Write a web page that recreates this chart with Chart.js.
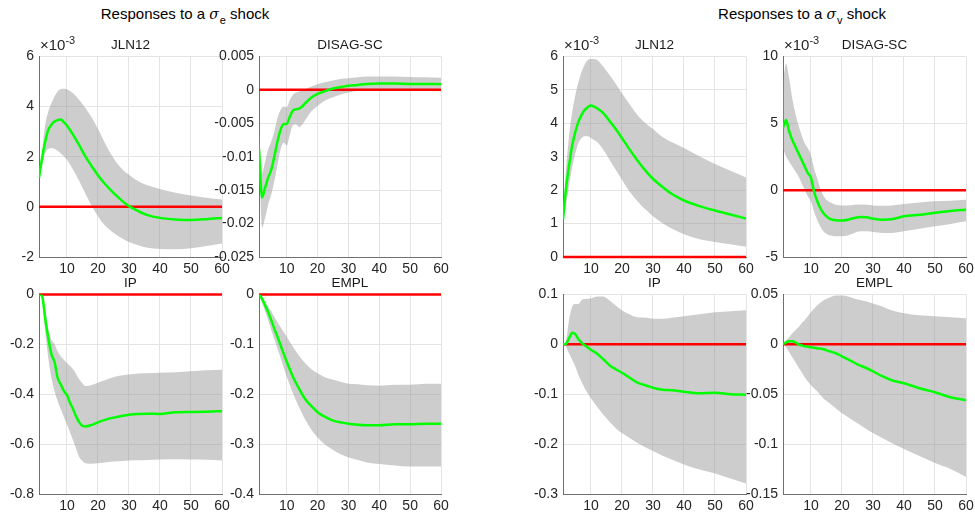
<!DOCTYPE html>
<html><head><meta charset="utf-8">
<script src="https://cdn.jsdelivr.net/npm/chart.js@4/dist/chart.umd.min.js"></script>
<style>
html,body{margin:0;padding:0;background:#fff;}
body{width:975px;height:518px;position:relative;overflow:hidden;font-family:"Liberation Sans",Arial,Helvetica,sans-serif;}
canvas{position:absolute;}
.mt{position:absolute;top:6px;font-size:15px;line-height:15px;color:#000;white-space:nowrap;transform:translateX(-50%);}
.mt sub{font-size:11px;position:relative;top:5px;vertical-align:baseline;line-height:0;margin-left:1px;}
.mt i{font-family:"DejaVu Serif","Liberation Serif",serif;font-size:14px;}
.st{position:absolute;font-size:13.5px;line-height:14px;color:#1a1a1a;white-space:nowrap;transform:translateX(-50%);}
.ex{position:absolute;font-size:15px;line-height:15px;color:#262626;white-space:nowrap;}
.ex sup{font-size:11px;position:relative;top:-6px;vertical-align:baseline;line-height:0;}
</style></head><body>
<div class="mt" style="left:185px">Responses to a <i>σ</i><sub>e</sub> shock</div>
<div class="mt" style="left:802px">Responses to a <i>σ</i><sub>v</sub> shock</div>
<script>
// ---------- DATA ----------
const X_TICKS = [10, 20, 30, 40, 50, 60];

// Responses to a sigma_e shock: JLN12 (x10^-3)
const seJLN_h    = [1,2,3,4,5,6,7,8,9,10,12,14,16,18,20,22,25,28,30,33,36,40,45,50,55,60];
const seJLN_mean = [1.15,1.95,2.6,3.07,3.27,3.4,3.46,3.48,3.38,3.24,2.87,2.45,2.0,1.62,1.26,0.95,0.56,0.22,0.03,-0.17,-0.33,-0.44,-0.5,-0.52,-0.49,-0.44];
const seJLN_hi   = [1.15,2.2,3.27,3.8,4.13,4.4,4.6,4.7,4.71,4.69,4.53,4.26,3.93,3.56,3.11,2.61,1.95,1.48,1.28,1.02,0.86,0.71,0.56,0.45,0.36,0.29];
const seJLN_lo   = [1.15,1.68,2.14,2.32,2.34,2.32,2.24,2.14,2.02,1.88,1.48,1.02,0.52,0.03,-0.37,-0.7,-1.03,-1.27,-1.4,-1.53,-1.63,-1.68,-1.69,-1.65,-1.56,-1.46];
const seJLN_yticks = [-2, 0, 2, 4, 6];

// sigma_e shock: DISAG-SC
const seDIS_h    = [1,2,3,4,5,6,7,8,9,10,11,12,13,14,15,16,18,20,22,25,28,30,33,36,40,45,50,55,60];
const seDIS_mean = [-0.0089,-0.0161,-0.0146,-0.0131,-0.0119,-0.0099,-0.0077,-0.00595,-0.0051,-0.0051,-0.004,-0.0031,-0.0029,-0.0028,-0.0025,-0.002,-0.00114,-0.0006,-0.00025,0.0002,0.00045,0.0006,0.00074,0.00089,0.00094,0.00094,0.00089,0.00089,0.00084];
const seDIS_hi   = [-0.0055,-0.0124,-0.0107,-0.0089,-0.0077,-0.0062,-0.0042,-0.003,-0.0025,-0.0026,-0.0015,-0.00074,-0.0004,-0.00025,-0.0001,0.0001,0.0005,0.00084,0.00109,0.00139,0.00164,0.00174,0.00188,0.00198,0.00198,0.00198,0.00193,0.00188,0.00179];
const seDIS_lo   = [-0.0094,-0.0206,-0.0191,-0.0171,-0.0156,-0.0136,-0.0112,-0.0089,-0.0079,-0.0083,-0.0067,-0.0053,-0.0052,-0.0056,-0.0052,-0.0045,-0.0032,-0.0024,-0.0017,-0.0011,-0.00064,-0.0004,-0.00015,-0.00005,0,-0.00005,-0.0001,-0.00015,-0.0002];
const seDIS_yticks = [-0.025, -0.02, -0.015, -0.01, -0.005, 0, 0.005];

// sigma_e shock: IP
const seIP_h    = [1,2,3,4,5,6,7,8,9,10,11,12,13,14,15,16,18,20,22,25,28,30,33,36,40,45,50,55,60];
const seIP_mean = [0,-0.007,-0.096,-0.175,-0.24,-0.27,-0.334,-0.36,-0.387,-0.403,-0.434,-0.46,-0.49,-0.513,-0.527,-0.529,-0.523,-0.513,-0.504,-0.494,-0.486,-0.482,-0.479,-0.478,-0.479,-0.472,-0.471,-0.47,-0.468];
const seIP_hi   = [0,0,-0.056,-0.135,-0.182,-0.2,-0.228,-0.248,-0.262,-0.275,-0.287,-0.3,-0.32,-0.341,-0.356,-0.367,-0.363,-0.354,-0.345,-0.332,-0.324,-0.321,-0.317,-0.316,-0.314,-0.312,-0.308,-0.304,-0.302];
const seIP_lo   = [0,-0.016,-0.149,-0.255,-0.334,-0.387,-0.427,-0.46,-0.49,-0.52,-0.553,-0.586,-0.62,-0.653,-0.668,-0.677,-0.679,-0.677,-0.674,-0.67,-0.668,-0.666,-0.665,-0.664,-0.662,-0.661,-0.662,-0.663,-0.666];
const seIP_yticks = [-0.8, -0.6, -0.4, -0.2, 0];

// sigma_e shock: EMPL
const seEMP_h    = [1,2,3,4,5,6,7,8,10,12,14,16,18,20,22,25,28,30,33,36,40,45,50,55,60];
const seEMP_mean = [0,-0.009,-0.022,-0.036,-0.052,-0.069,-0.085,-0.102,-0.135,-0.165,-0.189,-0.21,-0.224,-0.236,-0.244,-0.253,-0.257,-0.259,-0.261,-0.262,-0.262,-0.26,-0.26,-0.259,-0.259];
const seEMP_hi   = [0,-0.004,-0.015,-0.024,-0.034,-0.046,-0.056,-0.066,-0.085,-0.105,-0.123,-0.138,-0.15,-0.158,-0.165,-0.171,-0.176,-0.179,-0.18,-0.182,-0.183,-0.181,-0.181,-0.179,-0.179];
const seEMP_lo   = [0,-0.016,-0.034,-0.052,-0.072,-0.09,-0.109,-0.127,-0.165,-0.198,-0.226,-0.251,-0.271,-0.287,-0.299,-0.312,-0.322,-0.327,-0.332,-0.337,-0.34,-0.343,-0.345,-0.345,-0.345];
const seEMP_yticks = [-0.4, -0.3, -0.2, -0.1, 0];

// Responses to a sigma_v shock: JLN12 (x10^-3)
const svJLN_h    = [1,2,3,4,5,6,7,8,9,10,11,12,14,16,18,20,22,25,28,30,33,36,40,45,50,55,60];
const svJLN_mean = [1.12,2.07,2.76,3.36,3.75,4.05,4.25,4.4,4.48,4.53,4.5,4.45,4.3,4.07,3.83,3.56,3.28,2.89,2.54,2.34,2.1,1.89,1.69,1.52,1.39,1.27,1.15];
const svJLN_hi   = [1.22,2.66,3.66,4.35,4.85,5.24,5.54,5.76,5.89,5.92,5.92,5.89,5.69,5.44,5.18,4.9,4.63,4.25,3.97,3.83,3.6,3.44,3.26,3.01,2.78,2.58,2.38];
const svJLN_lo   = [1.02,1.57,2.17,2.71,3.11,3.41,3.56,3.61,3.61,3.56,3.5,3.44,3.21,2.91,2.61,2.31,2.02,1.67,1.39,1.22,1.02,0.85,0.68,0.53,0.45,0.38,0.31];
const svJLN_yticks = [0, 1, 2, 3, 4, 5, 6];

// sigma_v shock: DISAG-SC (x10^-3)
const svDIS_h    = [1,2,3,4,5,6,7,8,9,10,11,12,13,14,15,16,18,20,22,24,26,28,30,33,36,40,45,50,55,60];
const svDIS_mean = [4.67,5.24,4.37,3.75,3.25,2.75,2.26,1.76,1.27,0.94,-0.1,-0.79,-1.34,-1.71,-1.96,-2.13,-2.26,-2.28,-2.21,-2.08,-2.0,-2.03,-2.13,-2.21,-2.18,-1.96,-1.84,-1.69,-1.56,-1.46];
const svDIS_hi   = [8.1,9.45,8.34,6.85,5.73,4.86,4.12,3.5,3.13,2.63,1.64,0.89,0.15,-0.4,-0.72,-0.89,-1.09,-1.14,-1.14,-1.09,-1.07,-1.09,-1.14,-1.17,-1.14,-1.04,-0.92,-0.84,-0.79,-0.72];
const svDIS_lo   = [3.13,2.51,2.13,1.76,1.39,1.02,0.52,0.02,-0.47,-0.84,-1.59,-2.21,-2.7,-3.08,-3.27,-3.4,-3.45,-3.45,-3.37,-3.2,-3.08,-3.08,-3.13,-3.2,-3.2,-3.08,-2.88,-2.7,-2.53,-2.33];
const svDIS_yticks = [-5, 0, 5, 10];

// sigma_v shock: IP
const svIP_h    = [1,2,3,4,5,6,7,8,10,12,14,16,18,20,22,25,28,30,33,36,40,45,50,55,60];
const svIP_mean = [0,0.001,0.013,0.023,0.02,0.01,0.003,-0.002,-0.011,-0.019,-0.03,-0.042,-0.05,-0.057,-0.065,-0.077,-0.083,-0.087,-0.091,-0.092,-0.095,-0.098,-0.097,-0.1,-0.101];
const svIP_hi   = [0,0.008,0.051,0.076,0.081,0.081,0.089,0.091,0.092,0.096,0.096,0.088,0.078,0.068,0.061,0.054,0.053,0.051,0.051,0.053,0.056,0.06,0.064,0.066,0.068];
const svIP_lo   = [0,-0.005,-0.019,-0.032,-0.045,-0.062,-0.075,-0.088,-0.108,-0.125,-0.141,-0.155,-0.168,-0.178,-0.186,-0.198,-0.208,-0.214,-0.223,-0.231,-0.241,-0.251,-0.259,-0.269,-0.279];
const svIP_yticks = [-0.3, -0.2, -0.1, 0, 0.1];

// sigma_v shock: EMPL
const svEMP_h    = [1,2,3,4,5,6,7,8,10,12,14,16,18,20,22,25,28,30,33,36,40,45,50,55,60];
const svEMP_mean = [0,0.002,0.003,0.003,0.002,0,-0.001,-0.002,-0.003,-0.004,-0.005,-0.007,-0.009,-0.012,-0.015,-0.02,-0.024,-0.027,-0.032,-0.036,-0.039,-0.044,-0.048,-0.053,-0.056];
const svEMP_hi   = [0,0.004,0.007,0.011,0.014,0.017,0.021,0.024,0.032,0.039,0.044,0.047,0.049,0.049,0.048,0.045,0.043,0.041,0.038,0.034,0.031,0.029,0.028,0.027,0.026];
const svEMP_lo   = [0,-0.003,-0.008,-0.013,-0.018,-0.023,-0.028,-0.033,-0.041,-0.047,-0.054,-0.059,-0.064,-0.069,-0.073,-0.079,-0.085,-0.089,-0.094,-0.099,-0.105,-0.112,-0.119,-0.125,-0.133];
const svEMP_yticks = [-0.15, -0.1, -0.05, 0, 0.05];

// ---------- DRAWING ----------
const FONT = '"Liberation Sans", Arial, Helvetica, sans-serif';
const TXT = '#262626', GRID = '#e4e4e4', AXIS = '#707070';
const BAND = 'rgba(150,150,150,0.48)';
const YW = 60, XH = 24, PT = 12, PR = 14;

function panel(rect, h, mean, lo, hi, yTicks, title, exp) {
  const cv = document.createElement('canvas');
  const W = rect.R - rect.L + YW + PR;
  const H = rect.B - rect.T + PT + XH;
  cv.width = W; cv.height = H;
  cv.style.left = (rect.L - YW) + 'px';
  cv.style.top = (rect.T - PT) + 'px';
  cv.style.width = W + 'px'; cv.style.height = H + 'px';
  document.body.appendChild(cv);
  const pts = a => h.map((x, i) => ({x: x, y: a[i]}));
  const tickFont = {family: FONT, size: 14};
  new Chart(cv, {
    type: 'line',
    data: {datasets: [
      {data: pts(lo), borderWidth: 0, pointRadius: 0, fill: false, order: 3, cubicInterpolationMode: 'monotone'},
      {data: pts(hi), borderWidth: 0, pointRadius: 0, fill: '-1', backgroundColor: BAND, order: 3, cubicInterpolationMode: 'monotone'},
      {data: [{x: 1, y: 0}, {x: 60, y: 0}], borderColor: '#ff0000', borderWidth: 2.5, pointRadius: 0, order: 2, clip: 3},
      {data: pts(mean), borderColor: '#00ff00', borderWidth: 2.5, pointRadius: 0, order: 1, cubicInterpolationMode: 'monotone'}
    ]},
    options: {
      responsive: false, animation: false, events: [], devicePixelRatio: 1,
      layout: {padding: {left: 0, top: PT, right: PR, bottom: 0}},
      plugins: {legend: {display: false}, tooltip: {enabled: false}, title: {display: false}},
      scales: {
        x: {
          type: 'linear', min: 1, max: 60,
          afterBuildTicks: s => { s.ticks = X_TICKS.map(v => ({value: v})); },
          afterFit: s => { s.height = XH; },
          grid: {color: GRID, drawTicks: false, tickLength: 0},
          border: {color: AXIS, width: 1},
          ticks: {padding: 4, color: TXT, font: tickFont, maxRotation: 0, autoSkip: false, callback: v => String(v)}
        },
        y: {
          type: 'linear', min: yTicks[0], max: yTicks[yTicks.length - 1],
          afterBuildTicks: s => { s.ticks = yTicks.map(v => ({value: v})); },
          afterFit: s => { s.width = YW; },
          grid: {color: GRID, drawTicks: false, tickLength: 0},
          border: {color: AXIS, width: 1},
          ticks: {padding: 5, color: TXT, font: tickFont, autoSkip: false, callback: v => String(v)}
        }
      }
    }
  });
  const t = document.createElement('div');
  t.className = 'st';
  t.textContent = title;
  t.style.left = ((rect.L + rect.R) / 2) + 'px';
  t.style.top = (rect.T - 17) + 'px';
  document.body.appendChild(t);
  if (exp) {
    const e = document.createElement('div');
    e.className = 'ex';
    e.innerHTML = '×10<sup>-3</sup>';
    e.style.left = (rect.L + 1) + 'px';
    e.style.top = (rect.T - 18) + 'px';
    document.body.appendChild(e);
  }
}

const TOP = {T: 55, B: 257}, BOT = {T: 293, B: 494};
const C1 = {L: 39, R: 222}, C2 = {L: 259, R: 441}, C3 = {L: 563, R: 746}, C4 = {L: 783, R: 966};
const R = (c, r) => ({L: c.L, R: c.R, T: r.T, B: r.B});

panel(R(C1, TOP), seJLN_h, seJLN_mean, seJLN_lo, seJLN_hi, seJLN_yticks, 'JLN12', true);
panel(R(C2, TOP), seDIS_h, seDIS_mean, seDIS_lo, seDIS_hi, seDIS_yticks, 'DISAG-SC', false);
panel(R(C1, BOT), seIP_h, seIP_mean, seIP_lo, seIP_hi, seIP_yticks, 'IP', false);
panel(R(C2, BOT), seEMP_h, seEMP_mean, seEMP_lo, seEMP_hi, seEMP_yticks, 'EMPL', false);
panel(R(C3, TOP), svJLN_h, svJLN_mean, svJLN_lo, svJLN_hi, svJLN_yticks, 'JLN12', true);
panel(R(C4, TOP), svDIS_h, svDIS_mean, svDIS_lo, svDIS_hi, svDIS_yticks, 'DISAG-SC', true);
panel(R(C3, BOT), svIP_h, svIP_mean, svIP_lo, svIP_hi, svIP_yticks, 'IP', false);
panel(R(C4, BOT), svEMP_h, svEMP_mean, svEMP_lo, svEMP_hi, svEMP_yticks, 'EMPL', false);
</script>
</body></html>
